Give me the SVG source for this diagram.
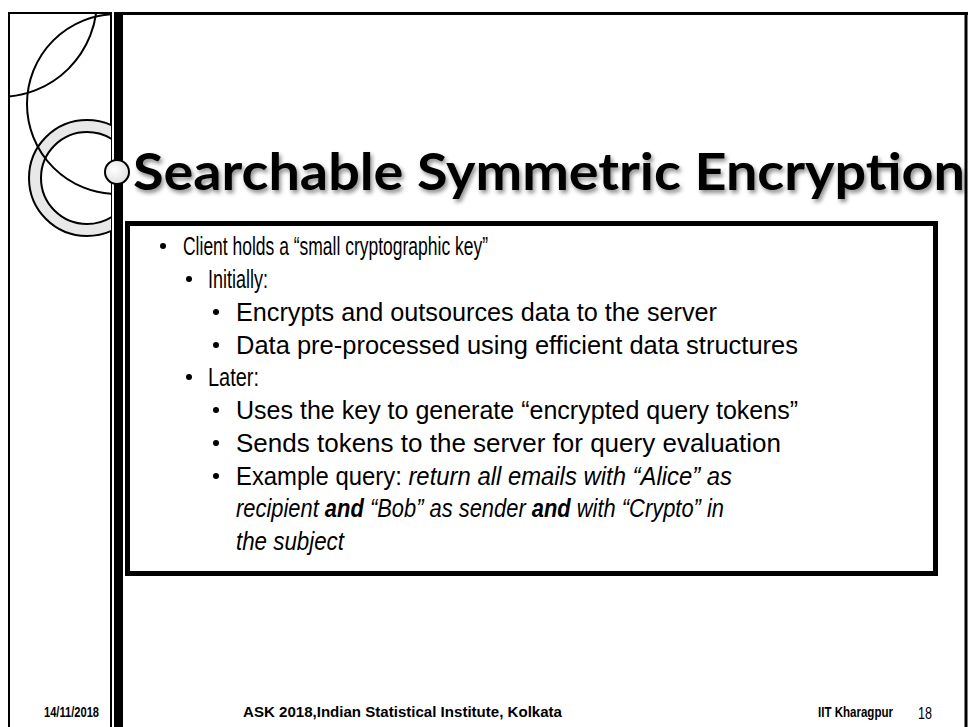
<svg xmlns="http://www.w3.org/2000/svg" width="969" height="727" viewBox="0 0 969 727">
<defs>
<style>
.b{font-family:"Liberation Sans",Arial,sans-serif;font-size:25px;fill:#000}
.i{font-style:italic}
.bi{font-style:italic;font-weight:bold}
.f{font-family:"Liberation Sans",Arial,sans-serif;font-size:15px;font-weight:bold;fill:#000}
.t{font-family:Lato,"Open Sans",sans-serif;font-size:52px;font-weight:bold;fill:#000}
.ln{fill:none;stroke:#000;stroke-width:2}
</style>
<clipPath id="panel"><rect x="9" y="13" width="102" height="714"/></clipPath>
<filter id="sh" x="-5%" y="-20%" width="110%" height="150%"><feDropShadow dx="2" dy="3" stdDeviation="2" flood-color="#000" flood-opacity="0.45"/></filter>
<radialGradient id="sc" cx="0.4" cy="0.4" r="0.7"><stop offset="0" stop-color="#fff"/><stop offset="1" stop-color="#ddd"/></radialGradient>
</defs>
<rect width="969" height="727" fill="#fff"/>
<g id="frame">
<rect x="9" y="13" width="102" height="720" class="ln"/>
<rect x="114" y="12" width="9" height="715" fill="#000"/>
<line x1="114" y1="13.5" x2="968" y2="13.5" stroke="#000" stroke-width="3"/>
<line x1="966" y1="12" x2="966" y2="727" stroke="#000" stroke-width="3"/>
</g>
<g id="decor">
<g clip-path="url(#panel)">
<circle cx="0" cy="0" r="97" class="ln"/>
<circle cx="87" cy="178" r="58" fill="#e8e8e8" stroke="#000" stroke-width="2"/>
<circle cx="87" cy="178" r="46" fill="#fff" stroke="#000" stroke-width="2"/>
<circle cx="117" cy="104" r="90" class="ln"/>
</g>
<circle cx="117" cy="172" r="12" fill="url(#sc)" stroke="#000" stroke-width="2"/>
</g>
<g id="title">
<text class="t" x="133" y="190" textLength="832" lengthAdjust="spacingAndGlyphs" filter="url(#sh)">Searchable Symmetric Encryption</text>
</g>
<g id="content">
<rect x="127.5" y="223.5" width="808" height="350" fill="none" stroke="#000" stroke-width="5"/>
<g class="b">
<circle cx="163" cy="246" r="3"/>
<text x="183" y="255" textLength="305" lengthAdjust="spacingAndGlyphs">Client holds a “small cryptographic key”</text>
<circle cx="189" cy="279" r="3"/>
<text x="208" y="288" textLength="60" lengthAdjust="spacingAndGlyphs">Initially:</text>
<circle cx="216" cy="312" r="3"/>
<text x="236" y="321" textLength="481" lengthAdjust="spacingAndGlyphs">Encrypts and outsources data to the server</text>
<circle cx="216" cy="345" r="3"/>
<text x="236" y="354" textLength="562" lengthAdjust="spacingAndGlyphs">Data pre-processed using efficient data structures</text>
<circle cx="189" cy="377" r="3"/>
<text x="208" y="386" textLength="51" lengthAdjust="spacingAndGlyphs">Later:</text>
<circle cx="216" cy="410" r="3"/>
<text x="236" y="419" textLength="562" lengthAdjust="spacingAndGlyphs">Uses the key to generate “encrypted query tokens”</text>
<circle cx="216" cy="443" r="3"/>
<text x="236" y="452" textLength="545" lengthAdjust="spacingAndGlyphs">Sends tokens to the server for query evaluation</text>
<circle cx="216" cy="476" r="3"/>
<text x="236" y="485" textLength="496" lengthAdjust="spacingAndGlyphs">Example query: <tspan class="i">return all emails with “Alice” as</tspan></text>
<text class="i" transform="translate(236 517) scale(0.876 1)">recipient <tspan class="bi">and</tspan> “Bob” as sender <tspan class="bi">and</tspan> with “Crypto” in</text>
<text class="i" x="236" y="550" textLength="108" lengthAdjust="spacingAndGlyphs">the subject</text>
</g>
</g>
<g id="footer">
<text class="f" x="44" y="717" textLength="55" lengthAdjust="spacingAndGlyphs">14/11/2018</text>
<text class="f" x="243" y="717" textLength="319" lengthAdjust="spacingAndGlyphs">ASK 2018,Indian Statistical Institute, Kolkata</text>
<text class="f" x="818" y="717" textLength="75" lengthAdjust="spacingAndGlyphs">IIT Kharagpur</text>
<text class="f" x="918" y="719" style="font-weight:normal;font-size:17px" textLength="14" lengthAdjust="spacingAndGlyphs">18</text>
</g>
</svg>
